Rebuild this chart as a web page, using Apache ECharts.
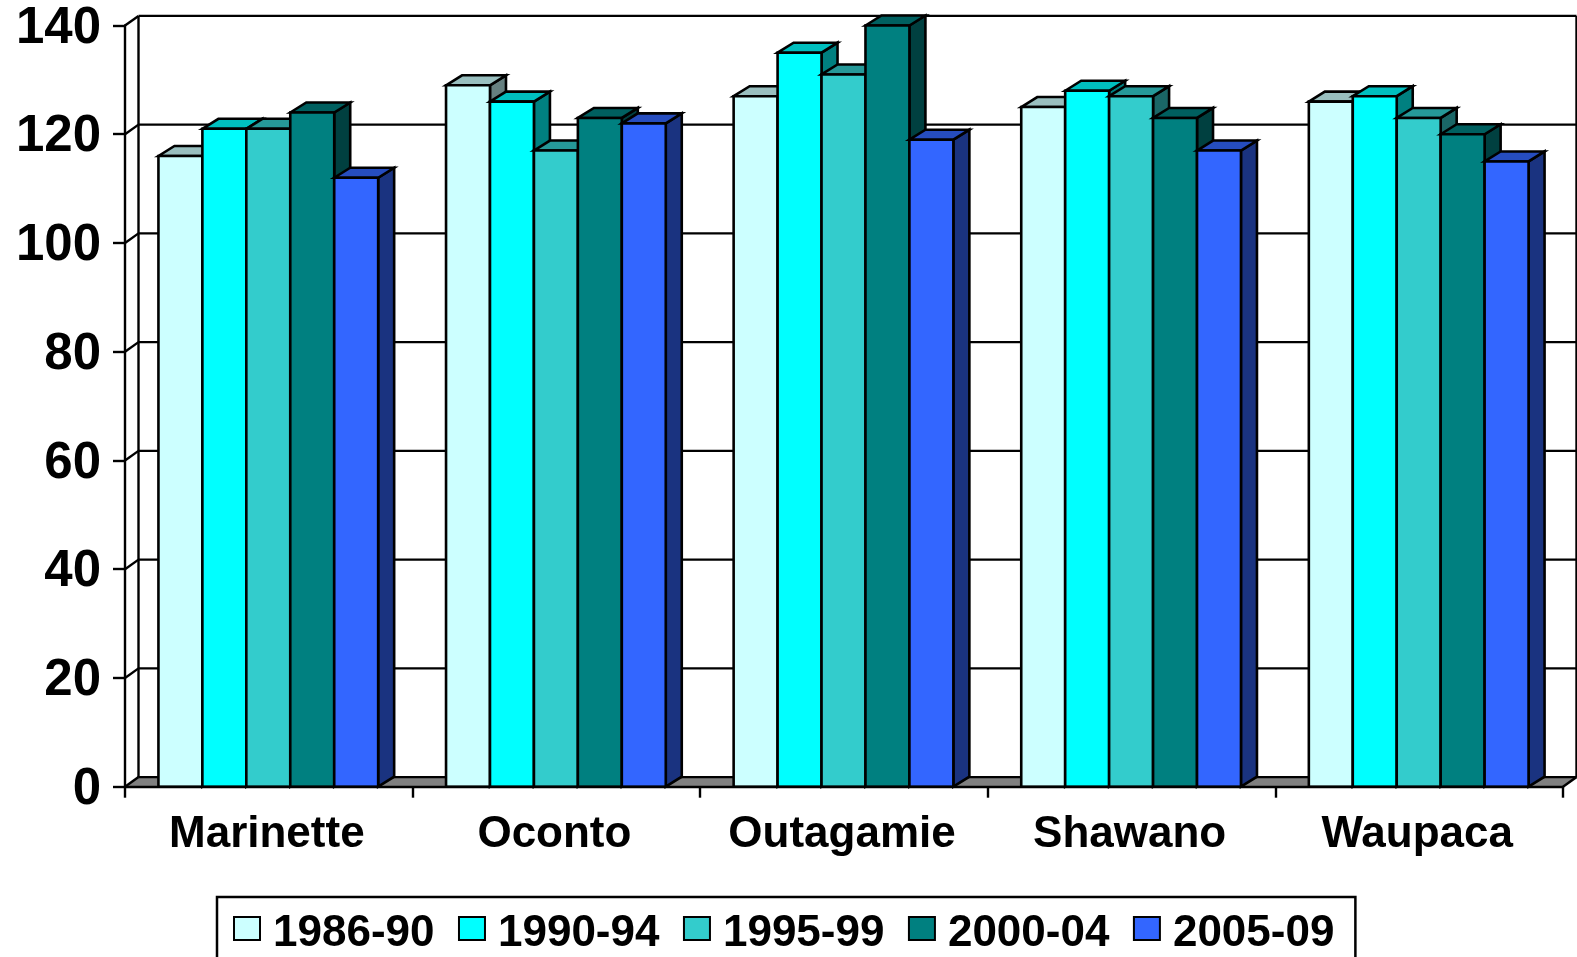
<!DOCTYPE html>
<html>
<head>
<meta charset="utf-8">
<style>html,body{margin:0;padding:0;background:#fff;overflow:hidden}#c{width:1577px;height:957px}</style>
<script src="https://cdn.jsdelivr.net/npm/echarts@6/dist/echarts.min.js"></script>
</head>
<body>
<div id="c"></div>
<script>
const counties = ['Marinette', 'Oconto', 'Outagamie', 'Shawano', 'Waupaca'];
const periods = ['1986-90', '1990-94', '1995-99', '2000-04', '2005-09'];
const v1986 = [116, 129, 127, 125, 126];
const v1990 = [121, 126, 135, 128, 127];
const v1995 = [121, 117, 131, 127, 123];
const v2000 = [124, 123, 140, 123, 120];
const v2005 = [112, 122, 119, 117, 115];
const yTicks = [0, 20, 40, 60, 80, 100, 120, 140];

const allValues = [v1986, v1990, v1995, v2000, v2005];
const frontColors = ['#CCFFFF', '#00FFFF', '#33CCCC', '#008080', '#3366FF'];
const topColors = ['#99BFBF', '#00BFBF', '#269999', '#006060', '#264DBF'];
const sideColors = ['#668080', '#008080', '#1A6666', '#004040', '#1A3380'];

const wallDx = 13.5, wallDy = 9.6, barDx = 16, barDy = 10, barShare = 0.1528;
const font = '"Liberation Sans", Arial, sans-serif';

function renderWall(params, api) {
  const value = api.value(0);
  const left = api.coord([0, value]);
  const size = api.size([1, 0]);
  const x0 = left[0] - size[0] / 2, y = left[1];
  const x1 = x0 + size[0] * counties.length;
  const line = { stroke: '#000', lineWidth: 2.4, fill: null };
  const children = [];
  if (value === 0) {
    const top = api.coord([0, 140])[1];
    children.push({ type: 'polygon', shape: { points: [[x0, y], [x0 + wallDx, y - wallDy], [x1 + wallDx, y - wallDy], [x1, y]] }, style: { fill: '#808080', stroke: null } });
    children.push({ type: 'line', shape: { x1: x0 + wallDx, y1: top - wallDy, x2: x0 + wallDx, y2: y - wallDy }, style: line });
    children.push({ type: 'line', shape: { x1: x1 + wallDx, y1: top - wallDy, x2: x1 + wallDx, y2: y - wallDy }, style: line });
    children.push({ type: 'line', shape: { x1: x1, y1: y, x2: x1 + wallDx, y2: y - wallDy }, style: line });
  }
  children.push({ type: 'line', shape: { x1: x0, y1: y, x2: x0 + wallDx, y2: y - wallDy }, style: line });
  children.push({ type: 'line', shape: { x1: x0 + wallDx, y1: y - wallDy, x2: x1 + wallDx, y2: y - wallDy }, style: line });
  return { type: 'group', children };
}

function makeBarRenderer(s) {
  return function (params, api) {
    const p = api.coord([api.value(0), api.value(1)]);
    const base = api.coord([api.value(0), 0])[1];
    const w = api.size([1, 0])[0] * barShare;
    const x = p[0] + (s - 2.5) * w - 0.5, y = p[1];
    const edge = { stroke: '#000', lineWidth: 2.6, lineJoin: 'miter' };
    return {
      type: 'group',
      children: [
        { type: 'polygon', shape: { points: [[x + w, y], [x + w + barDx, y - barDy], [x + w + barDx, base - barDy], [x + w, base]] }, style: Object.assign({ fill: sideColors[s] }, edge) },
        { type: 'polygon', shape: { points: [[x, y], [x + barDx, y - barDy], [x + w + barDx, y - barDy], [x + w, y]] }, style: Object.assign({ fill: topColors[s] }, edge) },
        { type: 'rect', shape: { x: x, y: y, width: w, height: base - y }, style: Object.assign({ fill: frontColors[s] }, edge) }
      ]
    };
  };
}

const series = [{
  type: 'custom', name: 'walls', silent: true, clip: false, z: 1,
  coordinateSystem: 'cartesian2d',
  encode: { y: 0 },
  data: yTicks.map(v => [v]),
  renderItem: renderWall
}].concat(periods.map((name, s) => ({
  type: 'custom', name, clip: false, z: 2,
  coordinateSystem: 'cartesian2d',
  encode: { x: 0, y: 1 },
  itemStyle: { color: frontColors[s], borderColor: '#000', borderWidth: 2.5 },
  data: allValues[s].map((v, i) => [i, v]),
  renderItem: makeBarRenderer(s)
})));

const chart = echarts.init(document.getElementById('c'), null, { width: 1577, height: 957 });
chart.setOption({
  animation: false,
  backgroundColor: '#fff',
  grid: { left: 125, top: 25.5, width: 1438, height: 761.2, containLabel: false },
  xAxis: {
    type: 'category', data: counties, z: 10,
    axisLine: { lineStyle: { color: '#000', width: 2.4 } },
    axisTick: { show: true, length: 11, alignWithLabel: false, lineStyle: { color: '#000', width: 2.4 } },
    axisLabel: { color: '#000', fontFamily: font, fontWeight: 'bold', fontSize: 44, margin: 26, interval: 0, padding: [0, 4, 0, 0] },
    splitLine: { show: false }
  },
  yAxis: {
    type: 'value', min: 0, max: 140, interval: 20, z: 10,
    axisLine: { show: true, lineStyle: { color: '#000', width: 2.4 } },
    axisTick: { show: true, length: 12, lineStyle: { color: '#000', width: 2.4 } },
    axisLabel: {
      color: '#000', fontFamily: font, fontWeight: 'bold', fontSize: 51, margin: 24,
      formatter: '{a|{value}}',
      rich: { a: { color: '#000', fontFamily: font, fontWeight: 'bold', fontSize: 51, padding: [6, 0, 0, 0] } }
    },
    splitLine: { show: false }
  },
  legend: {
    data: periods, left: 217, top: 897, orient: 'horizontal',
    icon: 'rect', itemWidth: 26, itemHeight: 23, itemGap: 23.5,
    padding: [14.5, 21, 40, 16],
    borderColor: '#000', borderWidth: 2.5, backgroundColor: '#fff',
    selectedMode: false,
    formatter: '{t|{name}}',
    textStyle: {
      color: '#000', fontFamily: font, fontWeight: 'bold', fontSize: 44,
      rich: { t: { color: '#000', fontFamily: font, fontWeight: 'bold', fontSize: 44, padding: [10, 0, 0, 8] } }
    }
  },
  series
});
</script>
</body>
</html>
